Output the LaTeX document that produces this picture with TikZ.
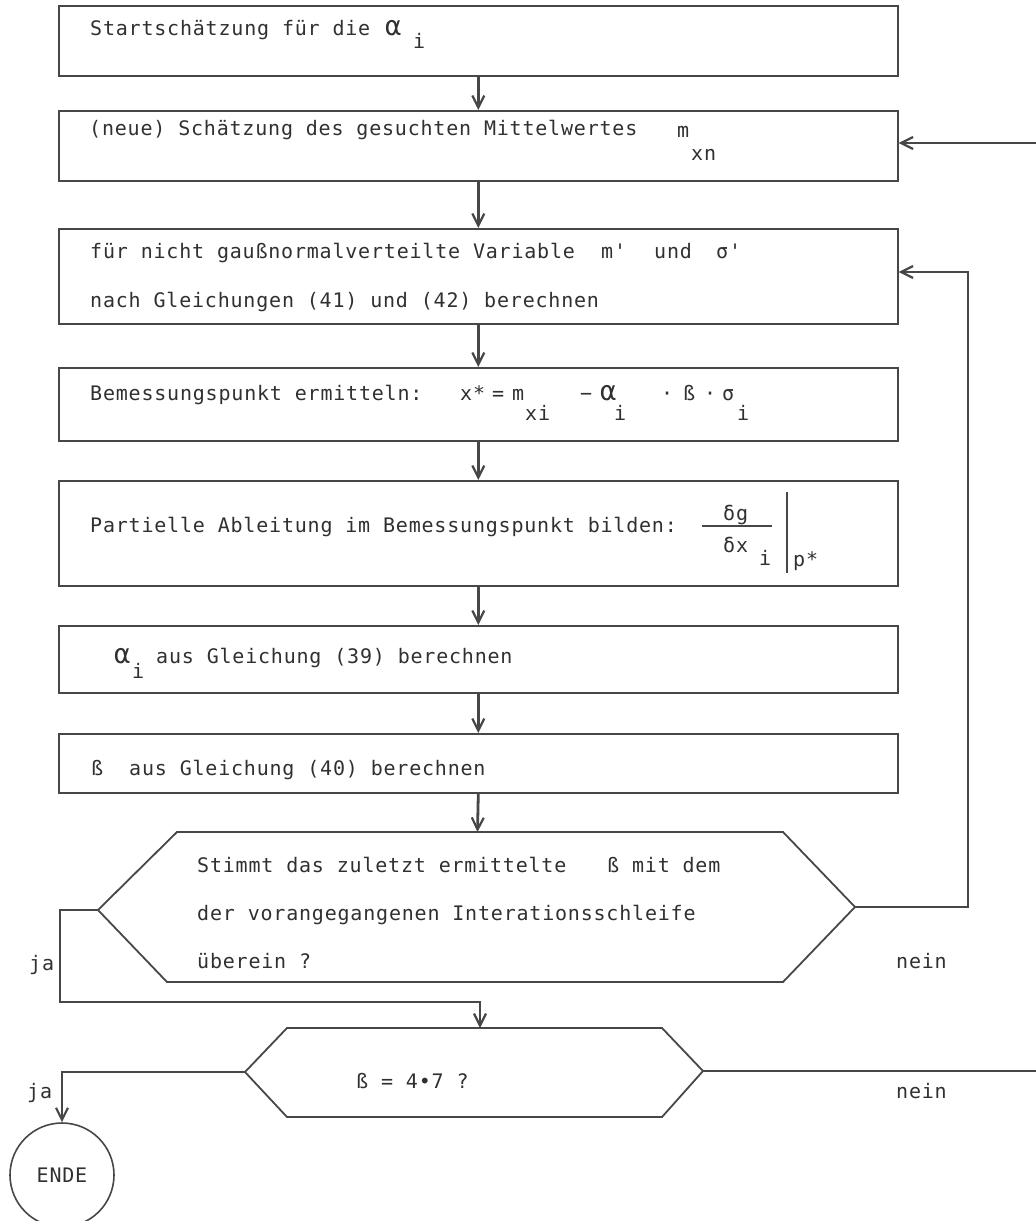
\documentclass[tikz,border=0pt]{standalone}
\usepackage{fontspec}
\usetikzlibrary{arrows.meta}
\newfontfamily\tw{DejaVu Sans Mono}[LetterSpace=4]
\definecolor{ink}{HTML}{474747}
\definecolor{txt}{HTML}{303030}

\begin{document}
\begin{tikzpicture}[x=1pt,y=-1pt,
  box/.style={draw=ink, line width=1.6pt, minimum width=839pt, anchor=north west, inner sep=0pt},
  dec/.style={draw=ink, line width=1.8pt, line join=miter},
  flow/.style={draw=ink, line width=2.8pt, line join=miter},
  arr/.style={flow, -{Straight Barb[length=12pt,width=12pt,line width=2.2pt]}},
  lbl/.style={anchor=base west, inner sep=0pt, text=txt, font=\tw\fontsize{20}{22}\selectfont},
  big/.style={lbl, font=\tw\fontsize{27}{28}\selectfont},
  endnode/.style={draw=ink, line width=1.6pt, circle, minimum size=104pt, inner sep=0pt, text=txt, font=\tw\fontsize{20}{22}\selectfont}
]
\useasboundingbox (0,0) rectangle (1036,1221);

% process boxes
\node[box, minimum height=70pt] (b1) at (58,5) {};
\node[box, minimum height=70pt] (b2) at (58,110) {};
\node[box, minimum height=95pt] (b3) at (58,228) {};
\node[box, minimum height=73pt] (b4) at (58,367) {};
\node[box, minimum height=105pt] (b5) at (58,480) {};
\node[box, minimum height=67pt] (b6) at (58,625) {};
\node[box, minimum height=59pt] (b7) at (58,733) {};

% box texts
\node[lbl] (t1) at (90,35) {Startschätzung für die};
\node[big] (t1a) at (385,35) {α};
\node[lbl] (t1i) at (413,48) {i};

\node[lbl] (t2) at (89,135) {(neue) Schätzung des gesuchten Mittelwertes};
\node[lbl] (t2m) at (677,137) {m};
\node[lbl] (t2s) at (691,160) {xn};

\node[lbl] (t3a) at (90,258) {für nicht gaußnormalverteilte Variable};
\node[lbl] (t3m) at (601,258) {m'};
\node[lbl] (t3u) at (654,258) {und};
\node[lbl] (t3s) at (716,258) {σ'};
\node[lbl] (t3b) at (90,307) {nach Gleichungen (41) und (42) berechnen};

\node[lbl] (t4) at (90,400) {Bemessungspunkt ermitteln:};
\node[lbl] (t4x) at (460,400) {x*};
\node[lbl] (t4e) at (492,400) {=};
\node[lbl] (t4m) at (512,400) {m};
\node[lbl] (t4mi) at (525,420) {xi};
\node[lbl] (t4d) at (580,400) {−};
\node[big] (t4a) at (600,400) {α};
\node[lbl] (t4ai) at (614,420) {i};
\node[lbl] (t4p1) at (661,400) {·};
\node[lbl] (t4b) at (683,400) {ß};
\node[lbl] (t4p2) at (704,400) {·};
\node[lbl] (t4s) at (722,400) {σ};
\node[lbl] (t4si) at (737,420) {i};

\node[lbl] (t5) at (90,532) {Partielle Ableitung im Bemessungspunkt bilden:};
\node[lbl] (t5n) at (723,520) {δg};
\node[lbl] (t5d) at (723,552) {δx};
\node[lbl] (t5di) at (759,565) {i};
\node[lbl] (t5p) at (793,566) {p*};
\coordinate (fl) at (702,526);
\coordinate (fr) at (772,526);
\draw[ink, line width=1.6pt] (fl) -- (fr);
\coordinate (bt) at (787,492);
\coordinate (bb) at (787,573);
\draw[ink, line width=1.6pt] (bt) -- (bb);

\node[big] (t6a) at (114,663) {α};
\node[lbl] (t6i) at (132,678) {i};
\node[lbl] (t6) at (156,663) {aus Gleichung (39) berechnen};

\node[lbl] (t7b) at (91,775) {ß};
\node[lbl] (t7) at (129,775) {aus Gleichung (40) berechnen};

% first decision
\coordinate (d1nw) at (177,832);
\coordinate (d1ne) at (783,832);
\coordinate (d1e) at (855,907);
\coordinate (d1se) at (783,982);
\coordinate (d1sw) at (167,982);
\coordinate (d1w) at (98,910);
\coordinate (d1n) at (477.5,832);
\draw[dec] (d1nw) -- (d1ne) -- (d1e) -- (d1se) -- (d1sw) -- (d1w) -- cycle;
\node[lbl] (q1a) at (197,872) {Stimmt das zuletzt ermittelte};
\node[lbl] (q1b) at (607,872) {ß mit dem};
\node[lbl] (q1c) at (197,920) {der vorangegangenen Interationsschleife};
\node[lbl] (q1d) at (197,968) {überein ?};
\node[lbl] (ja1) at (29,970) {ja};
\node[lbl] (nein1) at (896,968) {nein};

% second decision
\coordinate (d2nw) at (287,1028);
\coordinate (d2ne) at (662,1028);
\coordinate (d2e) at (703,1071);
\coordinate (d2se) at (662,1117);
\coordinate (d2sw) at (287,1117);
\coordinate (d2w) at (245,1072);
\coordinate (d2n) at (480,1028);
\draw[dec] (d2nw) -- (d2ne) -- (d2e) -- (d2se) -- (d2sw) -- (d2w) -- cycle;
\node[lbl] (q2) at (356,1088) {ß = 4•7 ?};
\node[lbl] (ja2) at (27,1098) {ja};
\node[lbl] (nein2) at (896,1098) {nein};

% terminal
\node[endnode] (ende) at (62,1175) {ENDE};

% connectors
\draw[arr] (b1.south) -- (b2.north);
\draw[arr] (b2.south) -- (b3.north);
\draw[arr] (b3.south) -- (b4.north);
\draw[arr] (b4.south) -- (b5.north);
\draw[arr] (b5.south) -- (b6.north);
\draw[arr] (b6.south) -- (b7.north);
\draw[arr] (b7.south) -- (d1n);

\coordinate (inR) at (1036,143);
\draw[arr] (inR) -- (b2.east |- inR);

\coordinate (lp) at (968,907);
\coordinate (lpTop) at (968,272);
\draw[arr] (d1e) -- (lp) -- (lpTop) -- (b3.east |- lpTop);

\coordinate (jaA) at (60,910);
\coordinate (jaB) at (60,1002);
\coordinate (jaC) at (480,1002);
\draw[arr] (d1w) -- (jaA) -- (jaB) -- (jaC) -- (d2n);

\coordinate (j2) at (62,1072);
\draw[arr] (d2w) -- (j2) -- (ende.north);

\coordinate (outR) at (1036,1071);
\draw[flow] (d2e) -- (outR);
\end{tikzpicture}
\end{document}
